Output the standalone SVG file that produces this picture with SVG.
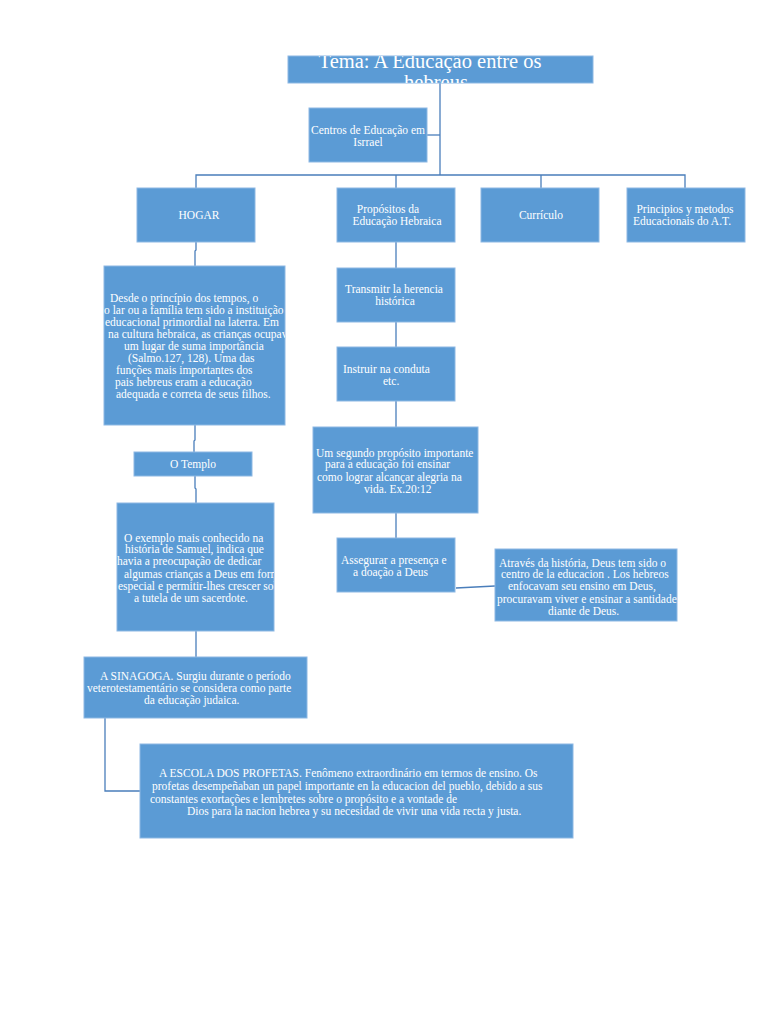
<svg xmlns="http://www.w3.org/2000/svg" width="768" height="1024" viewBox="0 0 768 1024">
<style>
.box{fill:#5B9BD5;stroke:#8DB8E3;stroke-width:1}
.t{font-family:"Liberation Serif","Times New Roman",serif;font-size:11.5px;fill:#FFFFFF}
.c{text-anchor:middle}
.ln{fill:none;stroke:#4A7EBB;stroke-width:1.3}
</style>
<defs>
<clipPath id="cTitle"><rect x="288" y="56" width="305" height="27"/></clipPath>
<clipPath id="cHogar"><rect x="104" y="266" width="181" height="159"/></clipPath>
<clipPath id="cTemplo"><rect x="117" y="503" width="157" height="128"/></clipPath>
<clipPath id="cSina"><rect x="84" y="657" width="223" height="61"/></clipPath>
<clipPath id="cAtraves"><rect x="495" y="549" width="182" height="72"/></clipPath>
</defs>
<rect width="768" height="1024" fill="#FFFFFF"/>
<g id="connectors">
<polyline class="ln" points="440,83 440,175"/>
<polyline class="ln" points="427,135 440,135"/>
<polyline class="ln" points="196,188 196,175 685,175 685,188"/>
<polyline class="ln" points="396,175 396,188"/>
<polyline class="ln" points="541,175 541,188"/>
<polyline class="ln" points="196,242 196,250 195,251 195,266"/>
<polyline class="ln" points="195,425 195,440 194,441 194,452"/>
<polyline class="ln" points="195,476 195,488 196,489 196,503"/>
<polyline class="ln" points="196,631 196,657"/>
<polyline class="ln" points="105,718 105,791 140,791"/>
<polyline class="ln" points="396,242 396,268"/>
<polyline class="ln" points="396,322 396,347"/>
<polyline class="ln" points="396,401 396,427"/>
<polyline class="ln" points="396,513 396,538"/>
<polyline class="ln" points="456,588 495,586"/>
</g>
<g id="title">
<rect class="box" x="288" y="56" width="305" height="27"/>
<g clip-path="url(#cTitle)">
<text class="t c" x="430" y="68" style="font-size:20.5px">Tema: A Educação entre os</text>
<text class="t c" x="436" y="89" style="font-size:20.5px">hebreus</text>
</g>
</g>
<g id="centros">
<rect class="box" x="309" y="108" width="118" height="54"/>
<text class="t c" x="368" y="134">Centros de Educação em</text>
<text class="t c" x="368" y="146">Isrrael</text>
</g>
<g id="hogar">
<rect class="box" x="137" y="188" width="118" height="54"/>
<text class="t c" x="199" y="219">HOGAR</text>
</g>
<g id="propositos">
<rect class="box" x="337" y="188" width="118" height="54"/>
<text class="t c" x="388" y="213">Propósitos da</text>
<text class="t c" x="397" y="225">Educação Hebraica</text>
</g>
<g id="curriculo">
<rect class="box" x="481" y="188" width="118" height="54"/>
<text class="t c" x="541" y="219">Currículo</text>
</g>
<g id="principios">
<rect class="box" x="627" y="188" width="118" height="54"/>
<text class="t c" x="685" y="213">Principios y metodos</text>
<text class="t c" x="682" y="225">Educacionais do A.T.</text>
</g>
<g id="hogar-texto">
<rect class="box" x="104" y="266" width="181" height="159"/>
<g clip-path="url(#cHogar)">
<text class="t" x="110" y="302">Desde o princípio dos tempos, o</text>
<text class="t" x="104" y="314">o lar ou a família tem sido a instituição</text>
<text class="t" x="105" y="326">educacional primordial na laterra. Em</text>
<text class="t" x="108" y="338">na cultura hebraica, as crianças ocupavam</text>
<text class="t" x="124" y="350">um lugar de suma importância</text>
<text class="t" x="128" y="362">(Salmo.127, 128). Uma das</text>
<text class="t" x="116" y="374">funções mais importantes dos</text>
<text class="t" x="115" y="386">pais hebreus eram a educação</text>
<text class="t" x="116" y="398">adequada e correta de seus filhos.</text>
</g>
</g>
<g id="templo">
<rect class="box" x="134" y="452" width="118" height="24"/>
<text class="t c" x="193" y="468">O Templo</text>
</g>
<g id="templo-texto">
<rect class="box" x="117" y="503" width="157" height="128"/>
<g clip-path="url(#cTemplo)">
<text class="t" x="124" y="542">O exemplo mais conhecido na</text>
<text class="t" x="125" y="553">história de Samuel, indica que</text>
<text class="t" x="117" y="565">havia a preocupação de dedicar</text>
<text class="t" x="124" y="578">algumas crianças a Deus em forma</text>
<text class="t" x="118" y="590">especial e permitir-lhes crescer sob</text>
<text class="t" x="134" y="602">a tutela de um sacerdote.</text>
</g>
</g>
<g id="sinagoga">
<rect class="box" x="84" y="657" width="223" height="61"/>
<g clip-path="url(#cSina)">
<text class="t" x="100" y="680">A SINAGOGA. Surgiu durante o período</text>
<text class="t" x="87" y="692">veterotestamentário se considera como parte</text>
<text class="t" x="144" y="704">da educação judaica.</text>
</g>
</g>
<g id="escola">
<rect class="box" x="140" y="744" width="433" height="94"/>
<text class="t" x="159" y="777">A ESCOLA DOS PROFETAS. Fenômeno extraordinário em termos de ensino. Os</text>
<text class="t" x="152" y="790">profetas desempeñaban un papel importante en la educacion del pueblo, debido a sus</text>
<text class="t" x="150" y="803">constantes exortações e lembretes sobre o propósito e a vontade de</text>
<text class="t" x="187" y="815">Dios para la nacion hebrea y su necesidad de vivir una vida recta y justa.</text>
</g>
<g id="transmitir">
<rect class="box" x="337" y="268" width="118" height="54"/>
<text class="t c" x="394" y="293">Transmitr la herencia</text>
<text class="t c" x="395" y="305">histórica</text>
</g>
<g id="instruir">
<rect class="box" x="337" y="347" width="118" height="54"/>
<text class="t" x="343" y="373">Instruir na conduta</text>
<text class="t" x="383" y="385">etc.</text>
</g>
<g id="segundo">
<rect class="box" x="313" y="427" width="165" height="86"/>
<text class="t" x="316" y="457">Um segundo propósito importante</text>
<text class="t" x="325" y="468">para a educação foi ensinar</text>
<text class="t" x="317" y="481">como lograr alcançar alegria na</text>
<text class="t" x="364" y="493">vida. Ex.20:12</text>
</g>
<g id="assegurar">
<rect class="box" x="337" y="538" width="118" height="54"/>
<text class="t" x="341" y="564">Assegurar a presença e</text>
<text class="t" x="353" y="576">a doação a Deus</text>
</g>
<g id="atraves">
<rect class="box" x="495" y="549" width="182" height="72"/>
<g clip-path="url(#cAtraves)">
<text class="t" x="499" y="567">Através da história, Deus tem sido o</text>
<text class="t" x="501" y="578">centro de la educacion . Los hebreos</text>
<text class="t" x="508" y="590">enfocavam seu ensino em Deus,</text>
<text class="t" x="497" y="603">procuravam viver e ensinar a santidade</text>
<text class="t" x="548" y="615">diante de Deus.</text>
</g>
</g>
</svg>
